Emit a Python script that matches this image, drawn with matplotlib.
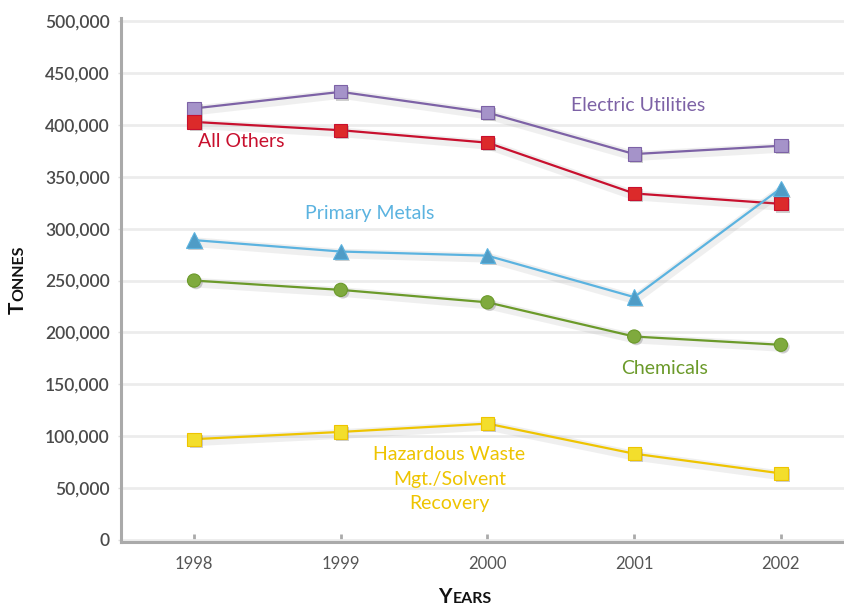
import numpy as np
import matplotlib
matplotlib.use("Agg")
import matplotlib.pyplot as plt
import matplotlib.patheffects as pe

plt.rcParams['font.family'] = ['Lato', 'DejaVu Sans']

years = [1998, 1999, 2000, 2001, 2002]

electric = [416000, 432000, 412000, 372000, 380000]
all_others = [403000, 395000, 383000, 334000, 324000]
primary_metals = [289000, 278000, 274000, 234000, 339000]
chemicals = [250000, 241000, 229000, 196000, 188000]
hazardous = [97000, 104000, 112000, 83000, 64000]

yticks = [0, 50000, 100000, 150000, 200000, 250000, 300000, 350000, 400000, 450000, 500000]

# (values, colour, marker, label, label x, label y, alignment)
series = [
    (electric, '#7d62a6', 's', 'Electric Utilities', 2001.03, 419000, 'center'),
    (all_others, '#c8102e', 's', 'All Others', 1998.03, 384000, 'left'),
    (primary_metals, '#5bb3e0', '^', 'Primary Metals', 1999.2, 315000, 'center'),
    (chemicals, '#6b9a2a', 'o', 'Chemicals', 2001.21, 165000, 'center'),
    (hazardous, '#eec400', 's', 'Hazardous Waste\nMgt./Solvent\nRecovery', 1999.74, 58500, 'center'),
]
marker_faces = ['#a593c9', '#dc2a2a', '#4f9cc6', '#7faa3e', '#f3de2c']

fig = plt.figure(figsize=(8.44, 6.08), dpi=100)
ax = fig.add_axes([0.143, 0.108, 0.857, 0.862])

shadow = [pe.SimpleLineShadow(offset=(0.5, -1.5), shadow_color='#888888', alpha=0.13, linewidth=7),
          pe.Normal()]
mshadow = [pe.SimplePatchShadow(offset=(1.5, -1.5), shadow_rgbFace='#777777', alpha=0.35), pe.Normal()]

for (vals, col, mk, label, lx, ly, ha), face in zip(series, marker_faces):
    ax.plot(years, vals, color=col, linewidth=1.6, zorder=3, path_effects=shadow)
    ax.plot(years, vals, linestyle='none', marker=mk, markersize=9.5 if mk != '^' else 11,
            markerfacecolor=face, markeredgecolor=col, markeredgewidth=0.8,
            zorder=4, path_effects=mshadow)
    ax.text(lx, ly, label, color=col, fontsize=14, ha=ha, va='center',
            linespacing=1.55, zorder=5)

ax.set_xlim(1997.5, 2002.43)
ax.set_ylim(-2500, 503000)
ax.set_xticks(years)
ax.set_yticks(yticks)
ax.set_yticklabels(['0' if v == 0 else f'{v:,}' for v in yticks])

ax.grid(axis='y', color='#ececec', linewidth=2)
ax.set_axisbelow(True)
for side in ['top', 'right']:
    ax.spines[side].set_visible(False)
for side in ['left', 'bottom']:
    ax.spines[side].set_color('#aaaaaa')
    ax.spines[side].set_linewidth(2.2)

ax.tick_params(axis='x', direction='in', length=6, width=2, color='#aaaaaa',
               labelsize=12, labelcolor='#555555', pad=10)
ax.tick_params(axis='y', direction='out', length=2, width=1, color='#dddddd',
               labelsize=12.5, labelcolor='#4a4a4a', pad=6)
for t in ax.get_yticklabels():
    t.set_fontweight('semibold')


def small_caps(x, y, word, big=15, small=11.5, rotation=0):
    # first letter full size, the rest as smaller capitals, centred on (x, y)
    kw = dict(weight='bold', color='#111111', rotation=rotation,
              rotation_mode='anchor', ha='left', va='baseline')
    t1 = fig.text(x, y, word[0], fontsize=big, **kw)
    t2 = fig.text(x, y, word[1:].upper(), fontsize=small, **kw)
    r = fig.canvas.get_renderer()
    e1, e2 = t1.get_window_extent(r), t2.get_window_extent(r)
    W, H = fig.bbox.width, fig.bbox.height
    if rotation == 0:
        w1, w2 = e1.width, e2.width
        start = x * W - (w1 + w2) / 2
        t1.set_position((start / W, y))
        t2.set_position(((start + w1 + 1) / W, y))
    else:
        w1, w2 = e1.height, e2.height
        start = y * H - (w1 + w2) / 2
        t1.set_position((x, start / H))
        t2.set_position((x, (start + w1 + 1) / H))


small_caps(0.550, 0.008, 'Years')
small_caps(0.028, 0.539, 'Tonnes', rotation=90)

fig.savefig('out.png', dpi=100)
